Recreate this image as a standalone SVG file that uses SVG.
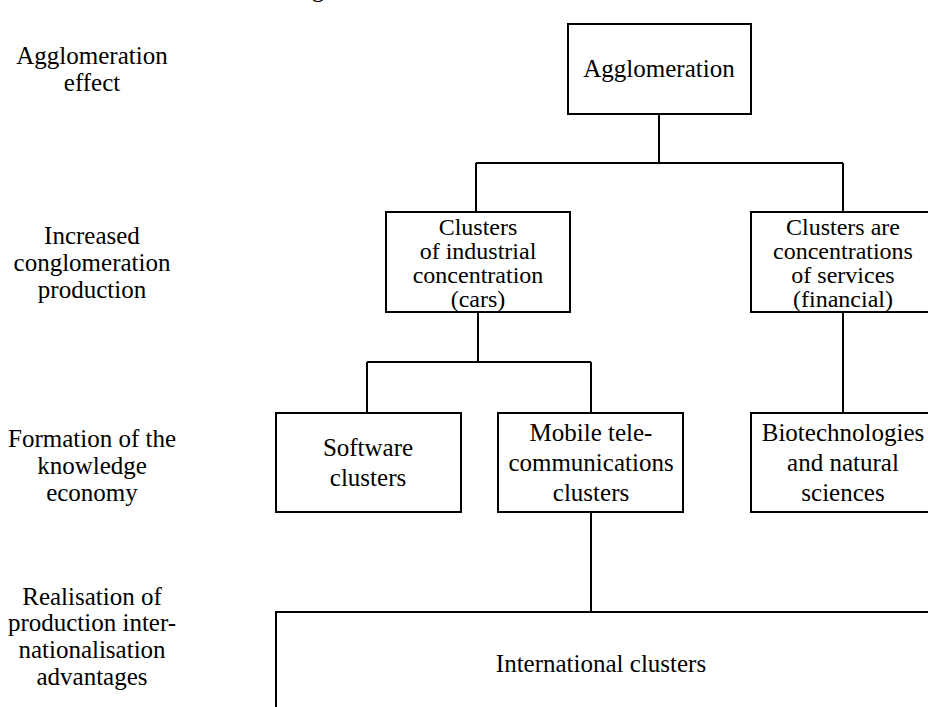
<svg xmlns="http://www.w3.org/2000/svg" width="928" height="707" viewBox="0 0 928 707">
<style>
text{font-family:"Liberation Serif","Times New Roman",serif;font-size:25px;fill:#000;text-anchor:middle}
.t4{font-size:24px}
.box{fill:#fff;stroke:#000;stroke-width:2}
.conn{fill:none;stroke:#000;stroke-width:2}
</style>
<rect width="928" height="707" fill="#fff"/>
<text x="318" y="-3">g</text>
<g id="labels">
<text x="92" y="64">Agglomeration</text>
<text x="92" y="91">effect</text>
<text x="92" y="244">Increased</text>
<text x="92" y="271">conglomeration</text>
<text x="92" y="298">production</text>
<text x="92" y="447">Formation of the</text>
<text x="92" y="474">knowledge</text>
<text x="92" y="501">economy</text>
<text x="92" y="605">Realisation of</text>
<text x="92" y="631">production inter-</text>
<text x="92" y="658">nationalisation</text>
<text x="92" y="685">advantages</text>
</g>
<g id="connectors">
<path class="conn" d="M659,114V163M476,163H843M476,163V212M843,163V212"/>
<path class="conn" d="M478,312V362M367,362H591M367,362V413M591,362V413"/>
<path class="conn" d="M843,312V413"/>
<path class="conn" d="M591,512V612"/>
</g>
<g id="n-agglomeration">
<rect class="box" x="568" y="24" width="183" height="90"/>
<text x="659" y="77">Agglomeration</text>
</g>
<g id="n-industrial">
<rect class="box" x="386" y="212" width="184" height="100"/>
<text class="t4" x="478" y="235">Clusters</text>
<text class="t4" x="478" y="259">of  industrial</text>
<text class="t4" x="478" y="283">concentration</text>
<text class="t4" x="478" y="307">(cars)</text>
</g>
<g id="n-services">
<rect class="box" x="751" y="212" width="184" height="100"/>
<text class="t4" x="843" y="235">Clusters are</text>
<text class="t4" x="843" y="259">concentrations</text>
<text class="t4" x="843" y="283">of services</text>
<text class="t4" x="843" y="307">(financial)</text>
</g>
<g id="n-software">
<rect class="box" x="276" y="413" width="185" height="99"/>
<text x="368" y="456">Software</text>
<text x="368" y="486">clusters</text>
</g>
<g id="n-mobile">
<rect class="box" x="498" y="413" width="185" height="99"/>
<text x="591" y="441">Mobile tele-</text>
<text x="591" y="471">communications</text>
<text x="591" y="501">clusters</text>
</g>
<g id="n-biotech">
<rect class="box" x="751" y="413" width="185" height="99"/>
<text x="843" y="441">Biotechnologies</text>
<text x="843" y="471">and natural</text>
<text x="843" y="501">sciences</text>
</g>
<g id="n-international">
<rect class="box" x="276" y="612" width="670" height="110"/>
<text x="601" y="672">International clusters</text>
</g>
</svg>
